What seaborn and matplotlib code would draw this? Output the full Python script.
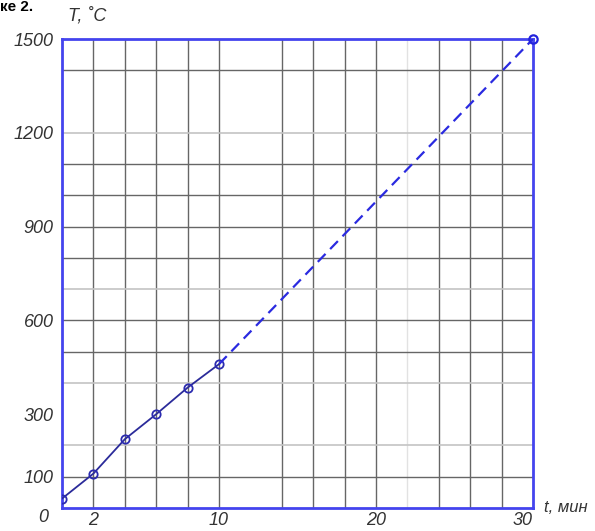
import numpy as np
import matplotlib
matplotlib.use("Agg")
import matplotlib.pyplot as plt
import seaborn as sns

# measured heating curve (solid part) and extrapolation (dashed part)
t_meas = [0, 2, 4, 6, 8, 10]
T_meas = [30, 110, 220, 300, 385, 460]
t_extr = [10, 30]
T_extr = [460, 1500]

y_ticks = [0, 100, 300, 600, 900, 1200, 1500]
x_ticks = [2, 10, 20, 30]
x_grid = [2, 4, 6, 8, 10, 14, 16, 18, 20, 24, 26, 28]
x_grid_light = [22]
y_grid = [100, 500, 600, 800, 900, 1000, 1100, 1400]
y_grid_light = [200, 400, 700, 1200]

sns.set_theme(style="white")
plt.rcParams['font.family'] = ['Liberation Sans', 'DejaVu Sans']

fig = plt.figure(figsize=(5.95, 5.31), dpi=100)
ax = fig.add_axes([62 / 595, 1 - 508 / 531, (533 - 62) / 595, (508 - 39) / 531])

for x in x_grid:
    ax.axvline(x, color='#666666', lw=1.0, zorder=1)
for x in x_grid_light:
    ax.axvline(x, color='#e2e2e2', lw=1.0, zorder=1)
for y in y_grid:
    ax.axhline(y, color='#666666', lw=1.0, zorder=1)
for y in y_grid_light:
    ax.axhline(y, color='#c4c4c4', lw=1.2, zorder=1)

sns.lineplot(x=t_meas, y=T_meas, ax=ax, color='#2b2b9a', lw=1.3, marker='o',
             markersize=6, markerfacecolor='none', markeredgecolor='#2b2bb0',
             markeredgewidth=1.3, zorder=3)
sns.lineplot(x=t_extr, y=T_extr, ax=ax, color='#2a2ae0', lw=1.6, linestyle=(0, (5, 3)),
             zorder=3)
ax.plot([30], [1500], marker='o', markersize=6, markerfacecolor='none',
        markeredgecolor='#2222dd', markeredgewidth=1.6, zorder=4, clip_on=False)

ax.set_xlim(0, 30)
ax.set_ylim(0, 1500)
for s in ax.spines.values():
    s.set_color('#4444ee')
    s.set_linewidth(2)

ax.set_xticks(x_ticks)
ax.set_yticks(y_ticks[1:])
ax.tick_params(length=0, labelsize=13, colors='#333333')
for lab in ax.get_xticklabels() + ax.get_yticklabels():
    lab.set_fontstyle('italic')
ax.tick_params(axis='x', pad=3)
ax.tick_params(axis='y', pad=6)
ax.get_xticklabels()[-1].set_horizontalalignment('right')

# shared zero at the origin
ax.text(-0.85, -30, '0', ha='right', va='center', fontsize=13, fontstyle='italic',
        color='#333333')

ax.text(0.4, 1545, 'T, ˚C', ha='left', va='bottom', fontsize=13, fontstyle='italic',
        color='#333333')
ax.text(30.7, 0, 't, мин', ha='left', va='center', fontsize=12, fontstyle='italic',
        color='#333333', clip_on=False)

fig.text(0.0, 1.0, 'ке 2.', fontsize=11, fontweight='bold', va='top',
         ha='left', color='black')

fig.savefig('out.png', dpi=100, facecolor='white')
